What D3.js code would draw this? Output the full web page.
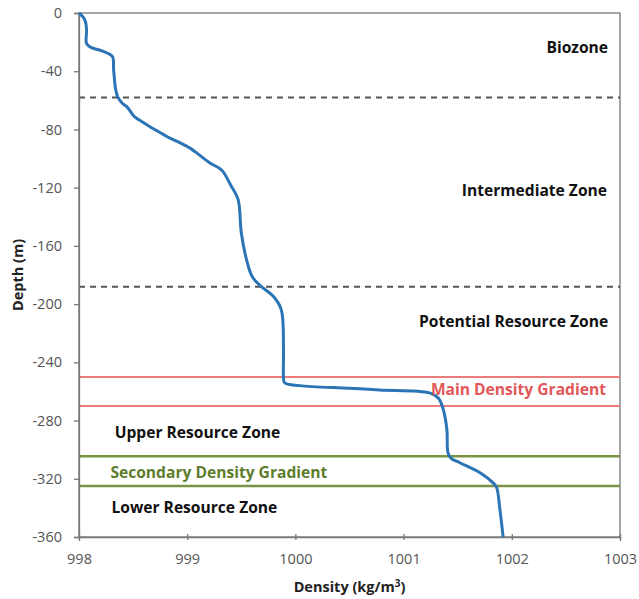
<!DOCTYPE html>
<html lang="en">
<head>
<meta charset="UTF-8">
<title>Density profile</title>
<script src="https://d3js.org/d3.v7.min.js"></script>
<style>
    body { margin: 0; background: #fff; }
    svg { display: block; }
    .tick text { font-family: "Open Sans", sans-serif; font-size: 14.5px; fill: #555; }
    .axis-title { font-family: "Open Sans", sans-serif; font-size: 14.5px; font-weight: bold; fill: #222; }
    .zone { font-family: "Open Sans", sans-serif; font-size: 15.6px; font-weight: bold; }
</style>
</head>
<body>
<svg id="chart" width="639" height="599"></svg>
<script>
// density profile: density (kg/m3), depth (m)
const density = [998.00, 998.04, 998.06, 998.07, 998.07, 998.12, 998.19, 998.26, 998.31, 998.32, 998.34, 998.36,
    998.40, 998.45, 998.51, 998.59, 998.70, 998.84, 998.93, 999.03, 999.12, 999.21, 999.32, 999.40, 999.47,
    999.50, 999.55, 999.60, 999.67, 999.80, 999.87, 999.89, 999.89, 999.90, 1000.04, 1000.50, 1000.78,
    1001.24, 1001.32, 1001.36, 1001.40, 1001.41, 1001.44, 1001.52, 1001.71, 1001.83, 1001.86, 1001.89, 1001.92];
const depth = [0, -3, -6, -12, -21, -24, -25.4, -27.5, -30, -39, -53, -58,
    -62, -65, -71, -75, -80, -86, -89, -93, -98, -103, -108, -118, -128,
    -151, -170, -181, -187, -195, -204, -230, -250, -254, -256, -257.8, -259,
    -261, -264.5, -270.7, -286, -302, -306, -309, -316, -323, -326, -341, -360];

const xTicks = [998, 999, 1000, 1001, 1002, 1003];
const yTicks = [0, -40, -80, -120, -160, -200, -240, -280, -320, -360];

// zone boundaries (depth, m)
const zoneLines = [
    { depth: -58, kind: "dash" },
    { depth: -188, kind: "dash" },
    { depth: -250, kind: "red" },
    { depth: -270, kind: "red" },
    { depth: -304.5, kind: "green" },
    { depth: -325, kind: "green" }
];

// anchor "end" labels sit against the right, "start" ones against the left
const zoneLabels = [
    { text: "Biozone", x: 1002.89, depth: -24, kind: "black", anchor: "end" },
    { text: "Intermediate Zone", x: 1002.88, depth: -122, kind: "black", anchor: "end" },
    { text: "Potential Resource Zone", x: 1002.89, depth: -212, kind: "black", anchor: "end" },
    { text: "Main Density Gradient", x: 1002.87, depth: -258.5, kind: "red", anchor: "end" },
    { text: "Upper Resource Zone", x: 998.33, depth: -288, kind: "black", anchor: "start" },
    { text: "Secondary Density Gradient", x: 998.29, depth: -316, kind: "green", anchor: "start" },
    { text: "Lower Resource Zone", x: 998.30, depth: -339.5, kind: "black", anchor: "start" }
];

const lineStyle = {
    dash: { stroke: "#555", width: 2, dash: "6,5" },
    red: { stroke: "#ec7b7b", width: 2, dash: null },
    green: { stroke: "#7a9445", width: 2.5, dash: null }
};
const labelColor = { black: "#111", red: "#e2575a", green: "#5e7d2c" };

const svg = d3.select("#chart");
const margin = { top: 13, right: 19, bottom: 62, left: 79 };
const width = 639 - margin.left - margin.right;
const height = 599 - margin.top - margin.bottom;

const g = svg.append("g").attr("transform", `translate(${margin.left},${margin.top})`);

const x = d3.scaleLinear().domain([998, 1003]).range([0, width]);
const y = d3.scaleLinear().domain([-360, 0]).range([height, 0]);

// frame
g.append("rect")
    .attr("width", width).attr("height", height)
    .attr("fill", "none").attr("stroke", "#777").attr("stroke-width", 1.3);

// zone boundaries
zoneLines.forEach(d => {
    const s = lineStyle[d.kind];
    g.append("line")
        .attr("x1", 0).attr("x2", width)
        .attr("y1", y(d.depth)).attr("y2", y(d.depth))
        .attr("stroke", s.stroke).attr("stroke-width", s.width)
        .attr("stroke-dasharray", s.dash);
});

// axes (plain hyphen for minus, like the original)
const fmt = d => String(d);
const yAxis = g.append("g")
    .call(d3.axisLeft(y).tickValues(yTicks).tickSize(5).tickPadding(12).tickFormat(fmt));
const xAxis = g.append("g")
    .attr("transform", `translate(0,${height})`)
    .call(d3.axisBottom(x).tickValues(xTicks).tickSize(4).tickPadding(13).tickFormat(fmt));
[xAxis, yAxis].forEach(a => {
    a.select(".domain").attr("stroke", "#777").attr("stroke-width", 1.3);
    a.selectAll(".tick line").attr("stroke", "#777").attr("stroke-width", 1.3);
});
xAxis.selectAll(".tick line").attr("y1", -3).attr("y2", 3);

// profile
const pts = density.map((v, i) => [v, depth[i]]);
g.append("path")
    .datum(pts)
    .attr("fill", "none")
    .attr("stroke", "#2b74b5")
    .attr("stroke-width", 3)
    .attr("stroke-linejoin", "round")
    .attr("d", d3.line().x(d => x(d[0])).y(d => y(d[1])).curve(d3.curveCatmullRom.alpha(0.5)));

// zone labels
g.selectAll(".zone")
    .data(zoneLabels)
    .join("text")
    .attr("class", "zone")
    .attr("x", d => x(d.x))
    .attr("y", d => y(d.depth))
    .attr("dy", "0.35em")
    .attr("text-anchor", d => d.anchor)
    .attr("fill", d => labelColor[d.kind])
    .text(d => d.text);

// axis titles
svg.append("text")
    .attr("class", "axis-title")
    .attr("text-anchor", "middle")
    .attr("transform", `translate(23,${margin.top + height / 2}) rotate(-90)`)
    .text("Depth (m)");

const xt = svg.append("text")
    .attr("class", "axis-title")
    .attr("text-anchor", "middle")
    .attr("x", margin.left + width / 2)
    .attr("y", 592);
xt.append("tspan").text("Density (kg/m");
xt.append("tspan").attr("dy", "-5").attr("font-size", "10px").text("3");
xt.append("tspan").attr("dy", "5").text(")");
</script>
</body>
</html>
